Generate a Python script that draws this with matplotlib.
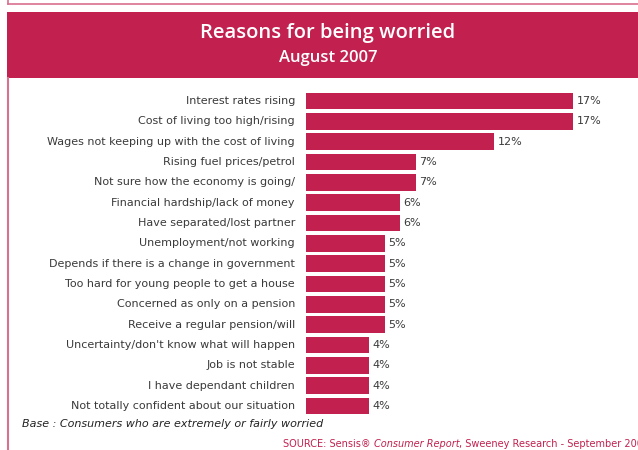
import matplotlib
matplotlib.use("Agg")
import matplotlib.pyplot as plt
from matplotlib.patches import Rectangle
from matplotlib.lines import Line2D

categories = [
    "Interest rates rising",
    "Cost of living too high/rising",
    "Wages not keeping up with the cost of living",
    "Rising fuel prices/petrol",
    "Not sure how the economy is going/",
    "Financial hardship/lack of money",
    "Have separated/lost partner",
    "Unemployment/not working",
    "Depends if there is a change in government",
    "Too hard for young people to get a house",
    "Concerned as only on a pension",
    "Receive a regular pension/will",
    "Uncertainty/don't know what will happen",
    "Job is not stable",
    "I have dependant children",
    "Not totally confident about our situation",
]
values = [17, 17, 12, 7, 7, 6, 6, 5, 5, 5, 5, 5, 4, 4, 4, 4]

title = "Reasons for being worried"
subtitle = "August 2007"
base_note = "Base : Consumers who are extremely or fairly worried"
source_parts = [("SOURCE: Sensis\u00ae ", "normal"),
                ("Consumer Report", "italic"),
                (", Sweeney Research - September 2007", "normal")]

W, H = 638, 450
BAR = "#C2214F"
EDGE = "#D9708F"
TEXT = "#3a3a3a"

fig = plt.figure(figsize=(W / 100, H / 100), dpi=100)
fig.patch.set_facecolor("white")


def px(x, y):
    return x / W, 1 - y / H


# frame lines
fig.add_artist(Line2D([7.5 / W, 7.5 / W], [1, 1 - 3.5 / H], color=EDGE, lw=1.2))
fig.add_artist(Line2D([7.5 / W, 1], [1 - 3.5 / H, 1 - 3.5 / H], color=EDGE, lw=1.2))
fig.add_artist(Line2D([7.5 / W, 7.5 / W], [0, 1 - 78 / H], color=EDGE, lw=1.5))

# header band
hx, hy = px(7, 78)
fig.add_artist(Rectangle((hx, hy), 1 - hx, 66 / H, transform=fig.transFigure,
                         facecolor=BAR, edgecolor="none"))
fig.text(*px(328, 33), title, color="white", fontsize=14.5, ha="center",
         va="center", family="Open Sans", fontweight="semibold")
fig.text(*px(328, 58), subtitle, color="white", fontsize=12, ha="center",
         va="center", family="Open Sans", fontweight="semibold")

# bar chart area
row = 20.33
n = len(categories)
x0 = 306
scale = 15.7
xmax = 20
top = 101 - row / 2
ax = fig.add_axes([x0 / W, 1 - (top + n * row) / H, xmax * scale / W, n * row / H])
ax.set_xlim(0, xmax)
ax.set_ylim(n - 0.5, -0.5)
ax.axis("off")
ypos = list(range(n))
ax.barh(ypos, values, height=0.82, color=BAR)
for y, v, c in zip(ypos, values, categories):
    ax.annotate(f"{v}%", (v, y), xytext=(2.5, 0), textcoords="offset points",
                ha="left", va="center", fontsize=8, color=TEXT)
    ax.annotate(c, (0, y), xytext=(-8, 0), textcoords="offset points",
                ha="right", va="center", fontsize=8, color=TEXT)

fig.text(*px(22, 424), base_note, fontsize=8, style="italic", color="#222222",
         ha="left", va="center")

# source line, pieces placed one after another
anchor = fig.text(*px(283, 444), source_parts[0][0], fontsize=7.0, color=BAR,
                  ha="left", va="center")
for txt, st in source_parts[1:]:
    anchor = fig.add_artist(matplotlib.text.Annotation(
        txt, xy=(1, 0.5), xycoords=anchor, xytext=(0, 0),
        textcoords="offset points", ha="left", va="center",
        fontsize=7.0, color=BAR, style=st, annotation_clip=False))

fig.savefig("out.png", dpi=100)
